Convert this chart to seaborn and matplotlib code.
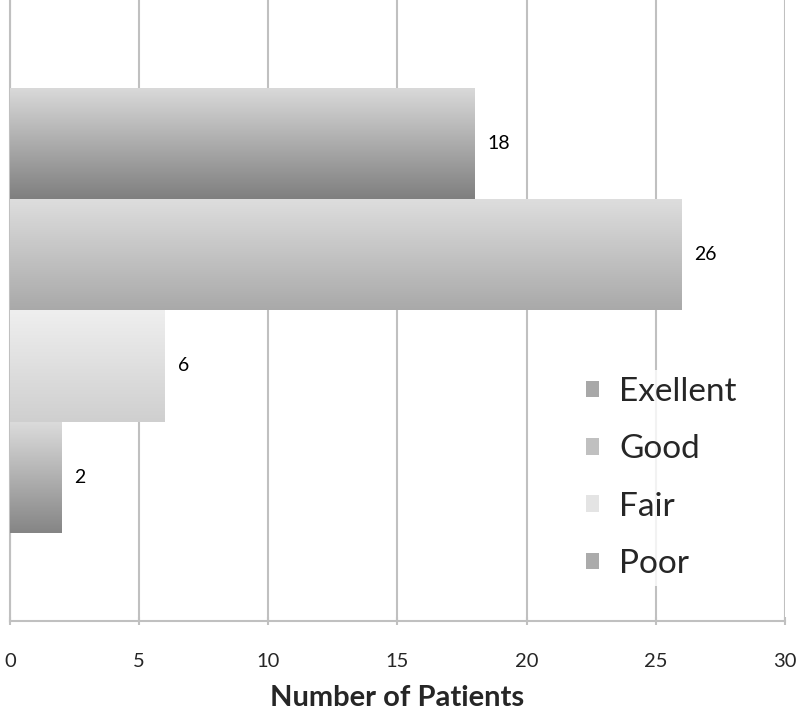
import numpy as np
import pandas as pd
import matplotlib
matplotlib.use("Agg")
import matplotlib.pyplot as plt
import seaborn as sns
from matplotlib.colors import LinearSegmentedColormap
from matplotlib.patches import Patch

# Data
ratings = ["Exellent", "Good", "Fair", "Poor"]
patients = [18, 26, 6, 2]
# gradient colours per bar: (top, bottom)
top_colors = ["#dadada", "#dedede", "#efefef", "#dcdcdc"]
bottom_colors = ["#7f7f7f", "#a9a9a9", "#cfcfcf", "#858585"]
legend_colors = ["#a8a8a8", "#c0c0c0", "#e4e4e4", "#ababab"]

df = pd.DataFrame({"group": [""] * len(ratings), "rating": ratings, "patients": patients})

sns.set_theme(style="white")
plt.rcParams["font.family"] = ["Lato", "DejaVu Sans"]

fig, ax = plt.subplots(figsize=(8, 7.12), dpi=100)
fig.subplots_adjust(left=0.0125, right=0.981, top=1.0, bottom=0.128)

sns.barplot(data=df, x="patients", y="group", hue="rating", hue_order=ratings,
            palette=legend_colors, orient="h", width=0.716, dodge=True,
            legend=False, ax=ax, zorder=3)

# gradient fill for each bar, clipped to the bar patch
for patch, c_top, c_bot in zip(ax.patches, top_colors, bottom_colors):
    x0, y0 = patch.get_x(), patch.get_y()
    w, h = patch.get_width(), patch.get_height()
    cmap = LinearSegmentedColormap.from_list("g", [c_top, c_bot])
    grad = np.linspace(0, 1, 256).reshape(-1, 1)
    # y axis is inverted so y0 is the visual top
    im = ax.imshow(grad, cmap=cmap, aspect="auto", extent=(x0, x0 + w, y0 + h, y0),
                   zorder=4, interpolation="bicubic")
    im.set_clip_path(patch)
    patch.set_edgecolor("none")
    # value label
    ax.text(x0 + w + 0.5, y0 + h / 2, str(int(w)), va="center", ha="left",
            fontsize=14, color="black", zorder=5)

ax.set_xlim(0, 30)
ax.set_ylim(0.5, -0.5)
ax.set_xticks(range(0, 31, 5))
ax.xaxis.grid(True, color="#c0c0c0", linewidth=1.5, zorder=0)
ax.yaxis.grid(False)
ax.set_yticks([])
ax.set_ylabel("")
ax.set_xlabel("Number of Patients", fontsize=21, fontweight="bold", labelpad=11)
ax.tick_params(axis="x", labelsize=14.5, length=6, width=1.5, color="#c0c0c0",
               direction="inout", pad=20, bottom=True)
for side in ["top", "right"]:
    ax.spines[side].set_visible(False)
for side in ["left", "bottom"]:
    ax.spines[side].set_color("#c0c0c0")
    ax.spines[side].set_linewidth(1.5)

# legend
handles = [Patch(facecolor=c, edgecolor="none") for c in legend_colors]
leg = ax.legend(handles, ratings, loc="lower right", bbox_to_anchor=(0.968, 0.03),
                frameon=True, fontsize=24, handlelength=0.4, handleheight=0.4,
                handletextpad=0.6, labelspacing=0.82, borderpad=0.2)
leg.get_frame().set_facecolor("white")
leg.get_frame().set_edgecolor("none")

fig.savefig("out.png", dpi=100)
